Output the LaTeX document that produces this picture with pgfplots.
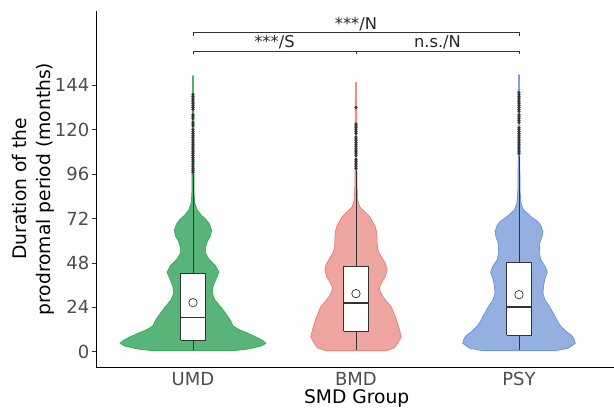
\documentclass[border=0pt]{standalone}
\usepackage{fontspec}
\setmainfont{DejaVu Sans}
\usepackage{pgfplots}
\usepackage{pgfplotstable}
\pgfplotsset{compat=1.18}

\definecolor{tickgray}{HTML}{4D4D4D}
\definecolor{linegray}{HTML}{333333}
\definecolor{gfill}{HTML}{58B478}
\definecolor{gline}{HTML}{2DA84E}
\definecolor{rfill}{HTML}{EEA59F}
\definecolor{rline}{HTML}{F0716C}
\definecolor{bfill}{HTML}{94B0E0}
\definecolor{bline}{HTML}{5E8BD8}

% violin half-widths (w, in px of a 163 px category step) at value v
\pgfplotstableread{
v w
0.5 0
0.5 40
1.5 56
3 68
4.5 73
6 70
8 63
10 55
12 46
14 40
17 37.5
20.5 33
24.3 27.7
28 22
31.6 19.3
35 20
38.8 22.7
43 26
46.5 22.5
50 16
53.2 12.7
56.5 12.7
59.5 14.3
62.5 17.5
65.8 18.7
69 16.5
71.5 13
74 8
76.6 4.3
80 2
85 1.2
100 0.9
130 0.8
149 0.6
149 0
}\umdv

\pgfplotstableread{
v w
0.5 0
0.5 30
2 38
4 41
8 45.3
13.5 42.7
19 39.3
24.3 35.3
27.5 30
30.6 26
33 24
35.1 23.7
38 26.5
40.5 29.3
44 31
47 30
51.4 25.3
54 22.5
56.8 21.3
62.2 21
65 20.5
67.6 19.3
70.5 16.5
73 13.7
76 8
78.4 3.7
82 1.8
88 1.2
100 0.9
130 0.8
145.4 0.6
145.4 0
}\bmdv

\pgfplotstableread{
v w
0.5 0
0.5 36
1.8 49
4.5 56.3
7 55
9 52.3
11 47
13.5 42.3
16 39
18.9 36.3
22 33
24.3 30.7
28 26
31.6 24
35 24.5
38.8 25.7
43 28.3
46 26.3
49.5 22
52.3 20.7
55.5 20.5
58.6 20.7
62 23
64.9 24
68 22
70.3 19
73 12
76.6 4.7
80 2.2
86 1.2
100 0.9
130 0.8
149.6 0.6
149.6 0
}\psyv

\begin{document}
\begin{tikzpicture}
\begin{axis}[
  scale only axis,
  width=518pt, height=356.6pt,
  xmin=0.405, xmax=3.583,
  ymin=-8.43, ymax=184.3,
  axis lines=left,
  axis line style={-, black, line width=0.6pt},
  xtick={1,2,3},
  xticklabels={UMD,BMD,PSY},
  ytick={0,24,48,72,96,120,144},
  tick align=outside,
  major tick length=4pt,
  ytick style={linegray, line width=0.6pt},
  xtick style={draw=none},
  /pgf/number format/assume math mode=true,
  ticklabel style={font=\fontsize{18}{20}\selectfont, text=tickgray},
  yticklabel style={anchor=east, inner sep=0pt, xshift=-2.5pt},
  xticklabel style={anchor=base, inner sep=0pt, yshift=-14pt},
  clip=false,
]
% violins: UMD
\addplot[fill=gfill, draw=none] table[x expr={1+\thisrow{w}/163}, y=v] {\umdv} -- cycle;
\addplot[fill=gfill, draw=none] table[x expr={1-\thisrow{w}/163}, y=v] {\umdv} -- cycle;
\addplot[gline, line width=0.6pt] table[x expr={1+\thisrow{w}/163}, y=v] {\umdv};
\addplot[gline, line width=0.6pt] table[x expr={1-\thisrow{w}/163}, y=v] {\umdv};
% BMD
\addplot[fill=rfill, draw=none] table[x expr={2+\thisrow{w}/163}, y=v] {\bmdv} -- cycle;
\addplot[fill=rfill, draw=none] table[x expr={2-\thisrow{w}/163}, y=v] {\bmdv} -- cycle;
\addplot[rline, line width=0.6pt] table[x expr={2+\thisrow{w}/163}, y=v] {\bmdv};
\addplot[rline, line width=0.6pt] table[x expr={2-\thisrow{w}/163}, y=v] {\bmdv};
% PSY
\addplot[fill=bfill, draw=none] table[x expr={3+\thisrow{w}/163}, y=v] {\psyv} -- cycle;
\addplot[fill=bfill, draw=none] table[x expr={3-\thisrow{w}/163}, y=v] {\psyv} -- cycle;
\addplot[bline, line width=0.6pt] table[x expr={3+\thisrow{w}/163}, y=v] {\psyv};
\addplot[bline, line width=0.6pt] table[x expr={3-\thisrow{w}/163}, y=v] {\psyv};

% whiskers
\addplot[linegray, line width=0.7pt] coordinates {(1,1) (1,6.3)};
\addplot[linegray, line width=0.7pt] coordinates {(1,42.2) (1,96)};
\addplot[linegray, line width=0.7pt] coordinates {(2,1) (2,11.2)};
\addplot[linegray, line width=0.7pt] coordinates {(2,46.2) (2,98)};
\addplot[linegray, line width=0.7pt] coordinates {(3,1) (3,9)};
\addplot[linegray, line width=0.7pt] coordinates {(3,48.3) (3,106)};
% boxes
\addplot[fill=white, draw=linegray, line width=0.7pt] coordinates {(0.925,6.3) (1.075,6.3) (1.075,42.2) (0.925,42.2) (0.925,6.3)};
\addplot[fill=white, draw=linegray, line width=0.7pt] coordinates {(1.925,11.2) (2.075,11.2) (2.075,46.2) (1.925,46.2) (1.925,11.2)};
\addplot[fill=white, draw=linegray, line width=0.7pt] coordinates {(2.925,9) (3.075,9) (3.075,48.3) (2.925,48.3) (2.925,9)};
% medians
\addplot[linegray, line width=1.5pt] coordinates {(0.925,18.6) (1.075,18.6)};
\addplot[linegray, line width=1.5pt] coordinates {(1.925,26.2) (2.075,26.2)};
\addplot[linegray, line width=1.5pt] coordinates {(2.925,24.2) (3.075,24.2)};

% outliers
\addplot[only marks, mark=*, mark size=1.4pt, linegray] coordinates {
(1,97) (1,98) (1,99) (1,100) (1,101) (1,102) (1,103) (1,104) (1,105) (1,106) (1,107) (1,108)
(1,109) (1,110) (1,111) (1,112) (1,113) (1,114) (1,115) (1,116) (1,117) (1,118) (1,119) (1,120)
(1,122) (1,123) (1,124) (1,126) (1,127) (1,128)
(1,131) (1,132) (1,133) (1,134) (1,135) (1,136) (1,137) (1,138) (1,139)
(2,99) (2,100) (2,101) (2,102) (2,103) (2,104) (2,106) (2,107) (2,108) (2,109) (2,110) (2,111)
(2,112) (2,113) (2,114) (2,115) (2,116) (2,118) (2,119) (2,120) (2,121) (2,122) (2,123) (2,132)
(3,107) (3,108) (3,109) (3,110) (3,111) (3,112) (3,113) (3,114) (3,115) (3,116) (3,117) (3,118)
(3,119) (3,120) (3,121) (3,124) (3,125) (3,126) (3,127) (3,128)
(3,130) (3,131) (3,132) (3,133) (3,134) (3,135) (3,136) (3,137) (3,138) (3,139) (3,140)
};

% means
\addplot[only marks, mark=o, mark size=4.2pt, linegray, line width=0.7pt] coordinates {(1,26.5) (2,31.4) (3,30.8)};

% significance brackets
\draw[linegray, line width=0.7pt] (axis cs:1,170.8) -- (axis cs:1,172.65) -- (axis cs:3,172.65) -- (axis cs:3,170.8);
\draw[linegray, line width=0.7pt] (axis cs:1,160.65) -- (axis cs:1,162.55) -- (axis cs:3,162.55) -- (axis cs:3,160.65);
\draw[linegray, line width=0.7pt] (axis cs:2,162.55) -- (axis cs:2,160.65);
\node[anchor=base, inner sep=0pt, font=\fontsize{16.3}{19}\selectfont, text=black!85] at (axis cs:2,174.3) {***/N};
\node[anchor=base, inner sep=0pt, font=\fontsize{16.3}{19}\selectfont, text=black!85] at (axis cs:1.5,164.3) {***/S};
\node[anchor=base, inner sep=0pt, font=\fontsize{16.3}{19}\selectfont, text=black!85] at (axis cs:2.5,164.3) {n.s./N};
\end{axis}
% axis titles
\node[rotate=90, align=center, font=\fontsize{18.7}{24}\selectfont, text=black] at (-63pt,178.3pt) {Duration of the\\prodromal period (months)};
\node[anchor=base, inner sep=0pt, font=\fontsize{18.7}{22}\selectfont, text=black] at (260.7pt,-36.5pt) {SMD Group};
\pgfresetboundingbox
\path[use as bounding box] (-96pt,-40.7pt) rectangle (518pt,367.3pt);
\end{tikzpicture}
\end{document}
